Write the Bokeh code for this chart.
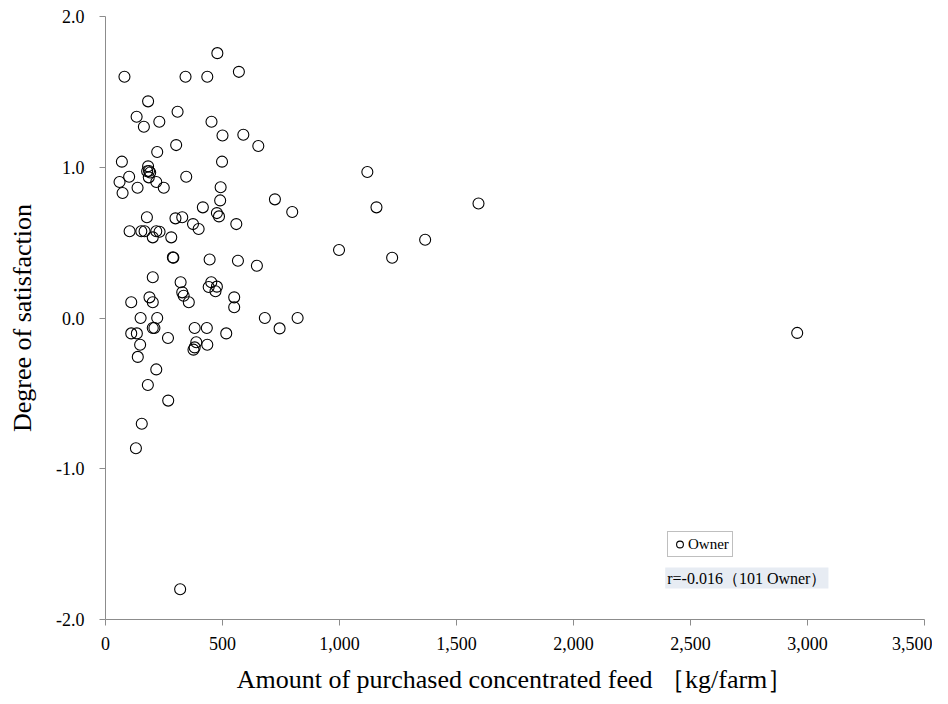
from bokeh.plotting import figure
from bokeh.models import (Range1d, NumeralTickFormatter, FixedTicker, Legend,
                          LegendItem, Label, ColumnDataSource)
from bokeh.embed import file_html
from bokeh.resources import INLINE

# Amount of purchased concentrated feed [kg/farm]
feed = [478, 81, 342, 435, 570, 182, 133, 308, 164, 230,
        453, 500, 589, 653, 302, 221, 70, 498, 182, 178,
        191, 185, 101, 345, 60, 217, 137, 249, 73, 492,
        490, 724, 798, 416, 177, 299, 328, 476, 485, 374,
        398, 559, 103, 153, 167, 217, 231, 202, 281, 288,
        290, 445, 566, 647, 998, 202, 321, 452, 441, 476,
        470, 328, 334, 356, 110, 188, 202, 550, 550, 150,
        221, 681, 821, 744, 110, 134, 202, 209, 381, 433,
        516, 267, 148, 388, 435, 381, 376, 138, 217, 181,
        268, 155, 130, 319, 1119, 1158, 1594, 1366, 1225, 2956,
        186]
# Degree of satisfaction
satisfaction = [1.757, 1.60, 1.60, 1.60, 1.633, 1.437, 1.335, 1.368, 1.269, 1.302,
                1.302, 1.211, 1.216, 1.141, 1.147, 1.101, 1.037, 1.037, 1.006, 0.973,
                0.965, 0.933, 0.937, 0.937, 0.902, 0.902, 0.864, 0.864, 0.829, 0.867,
                0.780, 0.787, 0.703, 0.734, 0.668, 0.661, 0.668, 0.696, 0.674, 0.623,
                0.590, 0.623, 0.575, 0.575, 0.575, 0.575, 0.572, 0.535, 0.535, 0.402,
                0.400, 0.388, 0.380, 0.347, 0.451, 0.270, 0.237, 0.237, 0.206, 0.208,
                0.177, 0.170, 0.148, 0.104, 0.104, 0.137, 0.104, 0.137, 0.071, 0.0,
                0.0, 0.0, 0.0, -0.069, -0.102, -0.102, -0.066, -0.066, -0.066, -0.066,
                -0.102, -0.133, -0.177, -0.161, -0.177, -0.195, -0.210, -0.258, -0.341, -0.444,
                -0.548, -0.701, -0.864, -1.799, 0.968, 0.734, 0.760, 0.519, 0.400, -0.099,
                0.975]

x_ticks = [0, 500, 1000, 1500, 2000, 2500, 3000, 3500]
y_ticks = [-2.0, -1.0, 0.0, 1.0, 2.0]
series_name = "Owner"
r_text = "r=-0.016（101 Owner）"

SERIF = "Liberation Serif"

p = figure(width=932, height=700, output_backend="svg", toolbar_location=None,
           x_range=Range1d(0, 3500), y_range=Range1d(-2.0, 2.0),
           min_border_left=105, min_border_right=8, min_border_top=16,
           min_border_bottom=81)
p.outline_line_color = None
p.xgrid.visible = False
p.ygrid.visible = False
p.background_fill_color = "white"

src = ColumnDataSource(dict(x=feed, y=satisfaction))
r = p.scatter("x", "y", source=src, size=11, marker="circle",
              fill_color=None, line_color="black", line_width=1.1)

for ax in (p.xaxis[0], p.yaxis[0]):
    ax.axis_line_color = "#8c8c8c"
    ax.major_tick_line_color = "#8c8c8c"
    ax.major_tick_out = 6
    ax.major_tick_in = 0
    ax.minor_tick_line_color = None
    ax.major_label_text_font = SERIF
    ax.major_label_text_font_size = "18px"
    ax.major_label_text_color = "black"
    ax.axis_label_text_font = SERIF
    ax.axis_label_text_font_size = "26px"
    ax.axis_label_text_font_style = "normal"
    ax.axis_label_text_color = "black"

p.xaxis.ticker = FixedTicker(ticks=x_ticks)
p.xaxis.formatter = NumeralTickFormatter(format="0,0")
p.xaxis.major_label_standoff = 11
p.xaxis.axis_label = "Amount of purchased concentrated feed ［kg/farm］"
p.xaxis.axis_label_standoff = 12

p.yaxis.ticker = FixedTicker(ticks=y_ticks)
p.yaxis.formatter = NumeralTickFormatter(format="0.0")
p.yaxis.major_label_standoff = 15
p.yaxis.axis_label = "Degree of satisfaction"
p.yaxis.axis_label_standoff = 16

legend = Legend(items=[LegendItem(label=series_name, renderers=[r])],
                location=(562, 62), orientation="vertical",
                label_text_font=SERIF, label_text_font_size="15px",
                label_text_color="black", glyph_width=17, glyph_height=18,
                label_standoff=0, padding=3, spacing=0, margin=0,
                label_height=18,
                border_line_color="#808080", border_line_width=1,
                background_fill_color="white", background_fill_alpha=1)
p.add_layout(legend, "center")

lbl = Label(x=2392, y=-1.795, x_units="data", y_units="data", text=r_text,
            text_font=SERIF, text_font_size="16px", text_color="black",
            text_baseline="bottom", text_align="left",
            background_fill_color="#e7ecf3", background_fill_alpha=1.0,
            padding=2)
p.add_layout(lbl)

open("out.html", "w").write(file_html(p, INLINE))
